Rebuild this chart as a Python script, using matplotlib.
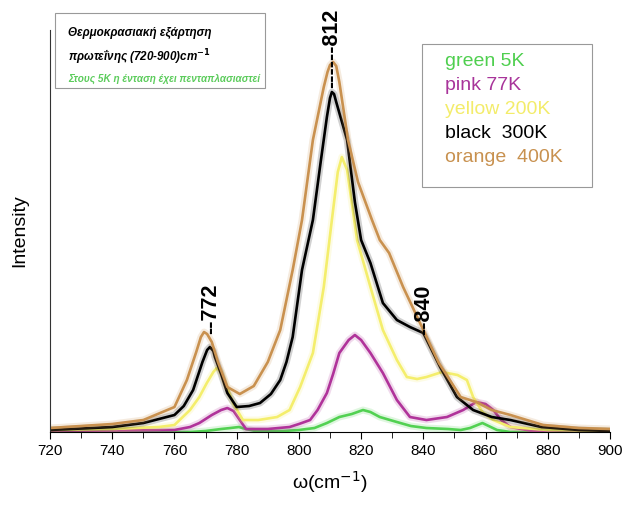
import matplotlib.pyplot as plt
from matplotlib.patches import Rectangle
from matplotlib.ticker import MultipleLocator

plt.rcParams["font.family"] = ["Liberation Sans", "DejaVu Sans"]

# spectra (wavenumber in cm^-1, intensity in arb. units)
green_x = [720, 765, 770, 775, 778, 780.7, 783, 786, 795, 800, 805, 809, 813, 817,
           820.6, 823, 826, 831.5, 836, 841, 848, 852, 855, 859, 861, 863.7, 868, 900]
green_y = [0, 0, 1, 3, 4, 5, 3, 1, 1, 2, 4, 9, 15, 18,
           22, 20, 15, 10, 6, 4, 3, 2, 4, 9, 6, 2, 0, 0]

pink_x = [720, 760, 765, 768, 772, 775, 777, 779, 781, 783, 790, 797, 800, 803.6,
          806, 809, 811, 813, 816, 818, 820, 823, 827, 831.5, 835.7, 841, 847.6,
          852.8, 857, 860, 862.5, 865, 868, 875, 900]
pink_y = [1, 2, 5, 9, 17, 22, 24, 21, 12, 3, 3, 5, 8, 12,
          22, 39, 58, 79, 92, 97, 92, 79, 59, 32, 15, 12, 15,
          22, 30, 28, 22, 12, 5, 1, 0]

yellow_x = [720, 740, 755, 760, 765, 768, 770.4, 772.5, 773.6, 775, 776, 779, 782,
            787, 793, 797, 800.4, 804.5, 808, 810.6, 812.5, 813.8, 815.5, 818.7, 823,
            827, 831.5, 834.7, 838, 841, 846, 851, 854, 856, 859, 862.5, 868, 880, 900]
yellow_y = [2, 3, 5, 7, 22, 35, 49, 60, 64, 60, 52, 28, 12,
            12, 15, 22, 45, 79, 145, 212, 260, 275, 262, 192, 145,
            102, 72, 55, 53, 55, 60, 57, 52, 35, 20, 12, 5, 2, 1]

black_x = [720, 740, 750, 760, 763, 766, 769, 770.5, 771.4, 772.5, 773, 775, 777,
           780, 784, 787.5, 791, 794, 796, 798, 801, 804.5, 807, 809, 810, 810.6,
           811.3, 812, 815.5, 818, 820, 823, 827, 831.5, 835.7, 840, 845.4, 850.8,
           856, 862, 868, 878, 890, 900]
black_y = [2, 5, 9, 17, 26, 42, 70, 82, 85, 81, 75, 58, 39,
           25, 26, 29, 38, 52, 70, 95, 162, 212, 270, 315, 334, 340,
           338, 330, 292, 230, 192, 169, 129, 112, 105, 99, 65, 35,
           22, 15, 12, 5, 2, 1]

orange_x = [720, 730, 740, 750, 760, 764, 767, 768.5, 769.5, 770.5, 772, 774, 777,
            781, 785.5, 790, 794, 798, 801, 804.5, 808, 809.2, 810, 811, 812, 813,
            815.8, 819, 823.5, 826, 829, 833.5, 840, 845, 852, 857, 862, 868, 878.5,
            890, 900]
orange_y = [4, 6, 8, 12, 25, 52, 80, 95, 100, 98, 90, 70, 45,
            38, 46, 70, 102, 162, 212, 292, 345, 360, 367, 370, 366, 350,
            292, 250, 212, 192, 179, 145, 102, 69, 35, 30, 22, 17, 7,
            4, 3]

series = [
    (green_x, green_y, "#52d152"),
    (pink_x, pink_y, "#b0339a"),
    (yellow_x, yellow_y, "#f4ee6c"),
    (black_x, black_y, "#000000"),
    (orange_x, orange_y, "#c9914f"),
]
legend_labels = ["green 5K", "pink 77K", "yellow 200K", "black  300K", "orange  400K"]
legend_colors = ["#4fcf4f", "#a8349a", "#f3ec6a", "#000000", "#c8914f"]

peaks = [(771.5, 98, "--772"), (810.6, 344, "------812"), (840, 97, "--840")]

fig = plt.figure(figsize=(6.22, 5.07), dpi=100)
ax = fig.add_axes([0.0804, 0.1479, 0.9003, 0.7929])

for x, y, c in series:
    # soft halo under each trace
    ax.plot(x, y, color=c, linewidth=5, alpha=0.18, solid_capstyle="round")
    ax.plot(x, y, color=c, linewidth=1.9)

for px, py, lab in peaks:
    ax.text(px, py, lab, rotation=90, ha="center", va="bottom",
            fontsize=15.5, fontweight="bold")

ax.set_xlim(720, 900)
ax.set_ylim(0, 402)
ax.xaxis.set_major_locator(MultipleLocator(20))
ax.xaxis.set_minor_locator(MultipleLocator(10))
ax.tick_params(axis="x", which="major", direction="out", length=5, labelsize=11)
ax.tick_params(axis="x", which="minor", direction="out", length=4)
ax.set_yticks([])
ax.spines["top"].set_visible(False)
ax.spines["right"].set_visible(False)
ax.spines["left"].set_color("#333333")
ax.set_xlabel(r"ω(cm$^{-1}$)", fontsize=14, labelpad=8)
ax.set_ylabel("Intensity", fontsize=14, labelpad=16)

# title box
fig.patches.append(Rectangle((0.0884, 0.8264), 0.3376, 0.1479, transform=fig.transFigure,
                             fill=True, facecolor="white", edgecolor="#999999", lw=0.8))
fig.text(0.109, 1 - 33 / 507, "Θερμοκρασιακή εξάρτηση", fontsize=8.4,
         fontweight="bold", style="italic", va="center")
fig.text(0.109, 1 - 57 / 507, r"πρωτεΐνης (720-900)cm$^{\mathbf{-1}}$", fontsize=8.4,
         fontweight="bold", style="italic", va="center")
fig.text(0.109, 1 - 79 / 507, "Στους 5K η ένταση έχει πενταπλασιαστεί", fontsize=7.2,
         fontweight="bold", style="italic", va="center", color="#5ccc5c")

# legend box
fig.patches.append(Rectangle((422 / 622, 1 - 187 / 507), 170 / 622, 143 / 507,
                             transform=fig.transFigure, fill=True, facecolor="white",
                             edgecolor="#999999", lw=0.8))
for i, (lab, c) in enumerate(zip(legend_labels, legend_colors)):
    fig.text(445 / 622, 1 - (62 + 23.8 * i) / 507, lab, fontsize=14, color=c,
             va="center")

plt.savefig("out.png", dpi=100)
